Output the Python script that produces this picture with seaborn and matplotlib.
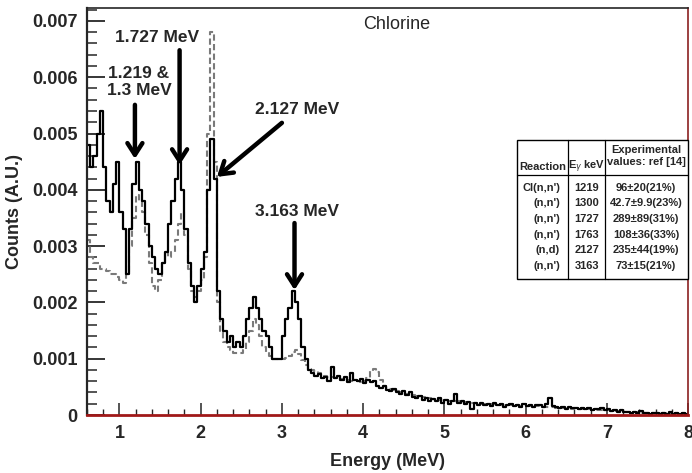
import matplotlib

matplotlib.use("Agg")
import matplotlib.pyplot as plt
import numpy as np
import pandas as pd
import seaborn as sns
from matplotlib.lines import Line2D
from matplotlib.patches import Rectangle
from matplotlib.ticker import FuncFormatter, MultipleLocator

# spectrum binning (MeV)
E_MIN, E_MAX = 0.6, 8.0
BIN_WIDTH = 0.04

# measured spectrum (black histogram), one value per 0.04 MeV bin from 0.6 to 8.0 MeV
measured = [
    # 0.6 - 1.0
    0.0048, 0.0044, 0.0046, 0.0050, 0.0054, 0.0044, 0.0038, 0.0036, 0.0041, 0.0045,
    # 1.0 - 2.0
    0.0036, 0.0033, 0.0025, 0.0033, 0.0041, 0.0045, 0.0040, 0.0038, 0.0034, 0.0030,
    0.0028, 0.0026, 0.0025, 0.0027, 0.0029, 0.0034, 0.0038, 0.0042, 0.0045, 0.0040,
    0.0033, 0.0027, 0.0023, 0.0020, 0.0023,
    # 2.0 - 3.0
    0.0026, 0.0029, 0.0040, 0.0049, 0.0042, 0.0022, 0.0017, 0.0015, 0.0013, 0.0014,
    0.0012, 0.0013, 0.0012, 0.0014, 0.0017, 0.0019, 0.0021, 0.0019, 0.0017, 0.0015,
    0.0014, 0.0012, 0.0010, 0.0010, 0.0010,
    # 3.0 - 4.0
    0.0014, 0.0017, 0.0019, 0.0022, 0.0020, 0.0017, 0.0012, 0.0010, 0.00080, 0.00075,
    0.00070, 0.00072, 0.00065, 0.00068, 0.00060, 0.00085, 0.00066, 0.00070, 0.00062, 0.00068,
    0.00058, 0.00075, 0.00062, 0.00060, 0.00064,
    # 4.0 - 5.0
    0.00056, 0.00062, 0.00058, 0.00060, 0.00052, 0.00048, 0.00052, 0.00045, 0.00042, 0.00046,
    0.00040, 0.00038, 0.00042, 0.00035, 0.00040, 0.00032, 0.00030, 0.00033, 0.00027, 0.00030,
    0.00025, 0.00028, 0.00024, 0.00030, 0.00022,
    # 5.0 - 6.0
    0.00026, 0.00020, 0.00024, 0.00038, 0.00022, 0.00025, 0.00020, 0.00023, 0.00010, 0.00021,
    0.00018, 0.00022, 0.00017, 0.00020, 0.00016, 0.00021, 0.00017, 0.00019, 0.00015, 0.00018,
    0.00020, 0.00016, 0.00018, 0.00015, 0.00019,
    # 6.0 - 7.0
    0.00016, 0.00018, 0.00014, 0.00017, 0.00018, 0.00015, 0.00019, 0.00030, 0.00016, 0.00014,
    0.00012, 0.00015, 0.00011, 0.00014, 0.00012, 0.00013, 0.00010, 0.00012, 0.00011, 0.00013,
    0.00009, 0.00011, 0.00010, 0.00012, 0.00008,
    # 7.0 - 8.0
    0.00010, 0.00007, 0.00009, 0.00006, 0.00008, 0.00005, 0.00006, 0.00004, 0.00005, 0.00003,
    0.00007, 0.00003, 0.00004, 0.00002, 0.00004, 0.00003, 0.00002, 0.00004, 0.00002, 0.00006,
    0.00002, 0.00003, 0.00002, 0.00003, 0.00002,
]

# simulated spectrum (grey dashed histogram), same bins
simulated = [
    # 0.6 - 1.0
    0.0031, 0.0028, 0.0027, 0.0027, 0.0026, 0.0026, 0.00255, 0.0025, 0.0025, 0.00245,
    # 1.0 - 2.0
    0.0024, 0.00235, 0.0025, 0.0030, 0.0035, 0.0039, 0.0038, 0.0036, 0.0032, 0.0027,
    0.0023, 0.0022, 0.0024, 0.0027, 0.0029, 0.0028, 0.0029, 0.0031, 0.0034, 0.0036,
    0.0032, 0.0026, 0.0022, 0.0021, 0.0022,
    # 2.0 - 3.0
    0.0024, 0.0028, 0.0050, 0.0068, 0.0045, 0.0020, 0.0015, 0.0013, 0.0012, 0.00115,
    0.0011, 0.0011, 0.0011, 0.00115, 0.0013, 0.0015, 0.0017, 0.0016, 0.0014, 0.0012,
    0.0011, 0.00105, 0.0010, 0.0010, 0.0010,
    # 3.0 - 4.0
    0.00100, 0.00102, 0.00105, 0.00112, 0.00115, 0.00108, 0.00098, 0.00088, 0.00082, 0.00080,
    0.00078, 0.00074, 0.00072, 0.00070, 0.00068, 0.00067, 0.00066, 0.00065, 0.00064, 0.00063,
    0.00062, 0.00061, 0.00060, 0.00060, 0.00059,
    # 4.0 - 5.0
    0.00060, 0.00066, 0.00078, 0.00082, 0.00076, 0.00062, 0.00052, 0.00048, 0.00046, 0.00044,
    0.00043, 0.00041, 0.00040, 0.00038, 0.00037, 0.00036, 0.00034, 0.00033, 0.00032, 0.00031,
    0.00030, 0.00029, 0.00028, 0.00027, 0.00026,
    # 5.0 - 6.0
    0.00026, 0.00025, 0.00025, 0.00024, 0.00024, 0.00023, 0.00023, 0.00022, 0.00022, 0.00021,
    0.00021, 0.00020, 0.00020, 0.00020, 0.00019, 0.00019, 0.00019, 0.00018, 0.00018, 0.00018,
    0.00017, 0.00017, 0.00017, 0.00016, 0.00016,
    # 6.0 - 7.0
    0.00016, 0.00016, 0.00015, 0.00016, 0.00015, 0.00015, 0.00014, 0.00015, 0.00014, 0.00013,
    0.00013, 0.00012, 0.00012, 0.00012, 0.00011, 0.00011, 0.00011, 0.00010, 0.00010, 0.00010,
    0.00009, 0.00009, 0.00009, 0.00008, 0.00008,
    # 7.0 - 8.0
    0.00008, 0.00007, 0.00007, 0.00007, 0.00006, 0.00006, 0.00006, 0.00005, 0.00005, 0.00005,
    0.00004, 0.00004, 0.00004, 0.00004, 0.00003, 0.00003, 0.00003, 0.00003, 0.00003, 0.00002,
    0.00002, 0.00002, 0.00002, 0.00002, 0.00002,
]

# peak annotations
peak_labels = ["1.219 &\n1.3 MeV", "1.727 MeV", "2.127 MeV", "3.163 MeV"]
peak_tip_energy = [1.19, 1.74, 2.20, 3.155]
peak_tip_counts = [0.00455, 0.00444, 0.00423, 0.00222]

# table inset
table_reactions = ["Cl(n,n')", "(n,n')", "(n,n')", "(n,n')", "(n,d)", "(n,n')"]
table_energies = ["1219", "1300", "1727", "1763", "2127", "3163"]
table_values = ["96±20(21%)", "42.7±9.9(23%)", "289±89(31%)",
                "108±36(33%)", "235±44(19%)", "73±15(21%)"]

W, H = 692, 473

sns.set_style("white")
plt.rcParams["font.family"] = ["Liberation Sans", "DejaVu Sans"]

fig = plt.figure(figsize=(W / 100, H / 100), dpi=100)
ax = fig.add_axes([87 / W, 1 - 415 / H, (688 - 87) / W, (415 - 8) / H])

n_bins = len(measured)
energy = E_MIN + BIN_WIDTH * (np.arange(n_bins) + 0.5)
df = pd.DataFrame({"energy": energy, "measured": measured, "simulated": simulated})

sns.histplot(data=df, x="energy", weights="simulated", bins=n_bins, binrange=(E_MIN, E_MAX),
             element="step", fill=False, color="#7a7a7a", linewidth=1.5,
             linestyle=(0, (3, 1.6)), ax=ax)
sns.histplot(data=df, x="energy", weights="measured", bins=n_bins, binrange=(E_MIN, E_MAX),
             element="step", fill=False, color="black", linewidth=1.6, ax=ax)

ax.set_xlim(E_MIN, E_MAX)
ax.set_ylim(0, 0.00723)

ax.xaxis.set_major_locator(MultipleLocator(1))
ax.xaxis.set_minor_locator(MultipleLocator(0.2))
ax.yaxis.set_major_locator(MultipleLocator(0.001))
ax.yaxis.set_minor_locator(MultipleLocator(0.0002))
ax.yaxis.set_major_formatter(FuncFormatter(lambda v, _: f"{v:g}"))

ax.tick_params(axis="y", which="major", direction="in", length=13, width=1.3,
               pad=7, labelsize=13, left=True)
ax.tick_params(axis="y", which="minor", direction="in", length=7, width=1.1, left=True)
ax.tick_params(axis="x", which="major", direction="in", length=9, width=1.1,
               pad=7, labelsize=13, bottom=True)
ax.tick_params(axis="x", which="minor", direction="in", length=4, width=1.0, bottom=True)
for lab in ax.get_xticklabels() + ax.get_yticklabels():
    lab.set_fontweight("bold")

ax.set_xlabel("Energy (MeV)", fontsize=13, fontweight="bold", labelpad=8)
ax.set_ylabel("Counts (A.U.)", fontsize=13, fontweight="bold", labelpad=6)

ax.spines["left"].set_linewidth(1.6)
ax.spines["top"].set_linewidth(1.2)
ax.spines["bottom"].set_color("#a01818")
ax.spines["bottom"].set_linewidth(2)
ax.spines["right"].set_color("#8b2020")
ax.spines["right"].set_linewidth(1.2)

ax.text(4.41, 0.00693, "Chlorine", fontsize=13, ha="center", va="center")

# arrows and labels
label_pos = [(1.24, 0.00591), (1.46, 0.00671), (3.19, 0.00542), (3.19, 0.00361)]
arrow_tail = [(1.19, 0.00551), (1.74, 0.00648), (3.0, 0.00519), (3.155, 0.00341)]
for text, (lx, ly), tail, tx, ty in zip(peak_labels, label_pos, arrow_tail,
                                         peak_tip_energy, peak_tip_counts):
    ax.text(lx, ly, text, fontsize=12.5, fontweight="bold", ha="center", va="center",
            linespacing=1.15)
    ax.annotate("", xy=(tx, ty), xytext=tail,
                arrowprops=dict(arrowstyle="->,head_length=0.7,head_width=0.45",
                                lw=3.2, color="black", shrinkA=0, shrinkB=0,
                                mutation_scale=12))


# table inset drawn in pixel coordinates of the figure
def fx(px):
    return px / W


def fy(py):
    return 1 - py / H


t_left, t_right, t_top, t_bottom = 517, 688, 140, 279
col1, col2, head_line = 568, 605, 175
fig.add_artist(Rectangle((fx(t_left), fy(t_bottom)), fx(t_right - t_left),
                         (t_bottom - t_top) / H, transform=fig.transFigure,
                         facecolor="white", edgecolor="black", linewidth=1.0, zorder=5))
for xc in (col1, col2):
    fig.add_artist(Line2D([fx(xc), fx(xc)], [fy(t_top), fy(t_bottom)],
                          color="black", linewidth=0.9, zorder=6))
fig.add_artist(Line2D([fx(t_left), fx(t_right)], [fy(head_line), fy(head_line)],
                      color="black", linewidth=0.9, zorder=6))

tfont = dict(family=["Liberation Sans", "DejaVu Sans"],
             fontsize=8, fontweight="bold", zorder=7)
fig.text(fx(543), fy(167), "Reaction", ha="center", va="center", **tfont)
fig.text(fx(587), fy(167), "E$_{\\gamma}$ keV", ha="center", va="center", **tfont)
fig.text(fx(646), fy(156), "Experimental\nvalues: ref [14]", ha="center", va="center",
         linespacing=1.25, **tfont)

row_y = [188, 203.5, 219, 234.5, 250, 266]
for ry, reac, en, val in zip(row_y, table_reactions, table_energies, table_values):
    fig.text(fx(560), fy(ry), reac, ha="right", va="center", **tfont)
    fig.text(fx(587), fy(ry), en, ha="center", va="center", **tfont)
    fig.text(fx(646), fy(ry), val, ha="center", va="center", **tfont)

fig.savefig("out.png", dpi=100)
plt.close(fig)
